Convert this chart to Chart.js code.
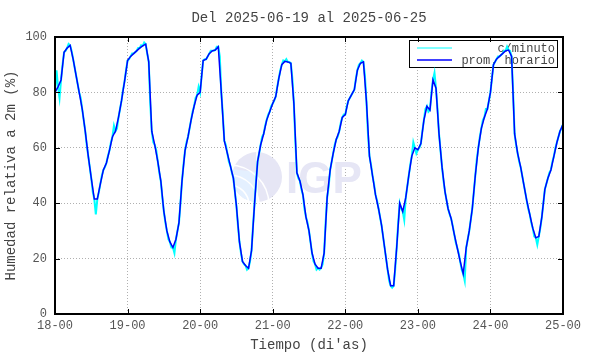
<!DOCTYPE html>
<html>
<head>
<meta charset="utf-8">
<script src="https://cdn.jsdelivr.net/npm/chart.js@4"></script>
<style>
  body { margin: 0; background: #fff; }
</style>
</head>
<body>
<canvas id="myChart" width="590" height="354"></canvas>
<script>
"use strict";
// tick labels of the x axis, one per day (every 24 h)
const xTickLabels = ["18-00", "19-00", "20-00", "21-00", "22-00", "23-00", "24-00", "25-00"];
const yTicks = [0, 20, 40, 60, 80, 100];

// hourly average (prom. horario), one value per hour from 18-00
const hourlyRH = [
  80, 82, 84.5, 94.5, 96, 97, 92, 86, 80, 74, 66, 57, 49, 41.5, 41.5, 47, 52, 54.5, 59, 64, 66, 71, 77, 84,
  91.5, 93, 94, 95, 96, 96.8, 97.4, 91, 66, 61, 55, 48, 37, 30, 26, 24, 27, 33, 48, 59, 64, 70, 75, 79,
  80, 91.5, 92, 94, 95, 95.3, 96.5, 80, 62.5, 58, 53.5, 49, 39, 26, 19, 17.5, 16.5, 23, 40, 55, 61, 65, 70, 73,
  76, 78.5, 85, 90, 91.2, 91, 90.5, 76, 51, 48, 43, 35, 30, 22, 18, 16.5, 16.5, 22, 42, 52, 58, 63, 66, 71,
  72, 77, 79, 81, 88, 90.5, 91, 76.7, 57, 50, 43, 38, 32, 24, 16, 10.2, 10.2, 24, 40, 37, 42, 50, 57, 60,
  59.3, 61.5, 70, 75, 73.6, 84.5, 81.5, 65, 53, 44, 38, 34.5, 29, 24, 19, 14.5, 24, 30, 38, 50, 60, 67, 71, 74,
  80, 90, 92, 93, 94, 95, 95.3, 93, 65, 58, 53, 47, 41, 36, 31, 27.5, 28, 35, 45, 49, 52, 57, 62, 66,
  68.5
];

// per-minute readings (c/minuto), read at each half hour
const halfHourRH = [
  88, 78, 90, 95, 97.5, 95, 89, 83, 78, 70, 61, 53, 44, 36, 44, 50, 53, 57, 62, 68, 67, 74, 81, 88,
  92, 94, 94.5, 96, 97, 98, 94, 76, 62, 59, 51, 42, 33, 27, 24, 22, 30, 40, 54, 62, 67, 73, 78, 82,
  86, 92, 93, 95, 95, 96.5, 93, 72, 61, 55, 51, 44, 32, 22, 18, 16, 19, 32, 48, 58, 64, 68, 72, 75,
  77, 82, 88, 91.5, 92, 91, 85, 62, 49, 45, 38, 33, 26, 19, 16, 16, 18, 33, 46, 55, 61, 64, 69, 72,
  75, 78, 80, 85, 90, 91.5, 86, 65, 54, 47, 41, 35, 28, 20, 12, 9.5, 16, 33, 38, 34, 46, 54, 62, 58,
  60, 66, 74, 73, 80, 87, 74, 59, 48, 41, 36, 32, 26, 22, 16, 12, 27, 34, 44, 56, 64, 70, 74, 77,
  85, 91, 93, 93.5, 95, 96.5, 95, 80, 61, 55, 50, 44, 38, 33, 28, 25, 31, 40, 47, 51, 55, 60, 64, 67
];

const FONT = "'Liberation Mono', 'DejaVu Sans Mono', monospace";

const hourlyPoints = hourlyRH.map((v, i) => ({ x: i, y: v }));
const minutePoints = [];
hourlyRH.forEach((v, i) => {
  minutePoints.push({ x: i, y: v });
  if (i < halfHourRH.length) minutePoints.push({ x: i + 0.5, y: halfHourRH[i] });
});

// frame, inner ticks, legend and watermark
const extras = {
  id: "extras",
  beforeDatasetsDraw(chart) {
    const ctx = chart.ctx;
    const a = chart.chartArea;
    ctx.save();
    // IGP watermark
    const cx = a.left + 202, cy = 177;
    ctx.fillStyle = "#e6e6f5";
    ctx.beginPath();
    ctx.arc(cx, cy, 25, 0, Math.PI * 2);
    ctx.fill();
    ctx.fillStyle = "#e4f0ff";
    ctx.beginPath();
    ctx.moveTo(cx, cy + 25);
    ctx.arc(cx, cy, 25, Math.PI / 2, Math.PI * 1.1);
    ctx.lineTo(cx, cy - 5);
    ctx.closePath();
    ctx.fill();
    ctx.strokeStyle = "#ffffff";
    ctx.lineWidth = 1.5;
    [40, 30, 20].forEach(r => {
      ctx.beginPath();
      ctx.arc(cx - 28, cy + 28, r, -Math.PI / 2, 0);
      ctx.stroke();
    });
    ctx.beginPath();
    ctx.moveTo(cx, cy - 25);
    ctx.lineTo(cx, cy + 25);
    ctx.stroke();
    ctx.fillStyle = "#e6e6f5";
    ctx.font = "bold 44px 'Liberation Sans', Arial, sans-serif";
    ctx.textBaseline = "alphabetic";
    ctx.textAlign = "left";
    ctx.fillText("IGP", cx + 29, cy + 16);

    // legend box
    const bx = a.right - 154, by = a.top + 3, bw = 148, bh = 27;
    ctx.fillStyle = "#fff";
    ctx.fillRect(bx, by, bw, bh);
    ctx.strokeStyle = "#000";
    ctx.lineWidth = 1;
    ctx.strokeRect(bx + 0.5, by + 0.5, bw, bh);
    const items = [chart.data.datasets[1], chart.data.datasets[0]];
    ctx.font = "12px " + FONT;
    ctx.textAlign = "right";
    ctx.textBaseline = "middle";
    items.forEach((ds, i) => {
      const y = by + 8 + i * 12;
      ctx.strokeStyle = ds.borderColor;
      ctx.lineWidth = i === 0 ? 1 : 1.5;
      ctx.beginPath();
      ctx.moveTo(bx + 8, y);
      ctx.lineTo(bx + 43, y);
      ctx.stroke();
      ctx.fillStyle = "#444";
      ctx.fillText(ds.label, bx + bw - 2, y + 1);
    });
    ctx.restore();
  },
  afterDatasetsDraw(chart) {
    const ctx = chart.ctx;
    const a = chart.chartArea;
    const xs = chart.scales.x, ys = chart.scales.y;
    ctx.save();
    ctx.strokeStyle = "#000";
    ctx.lineWidth = 1;
    ctx.beginPath();
    xTickLabels.forEach((t, i) => {
      const px = Math.round(xs.getPixelForValue(i * 24)) + 0.5;
      ctx.moveTo(px, a.bottom); ctx.lineTo(px, a.bottom - 5);
      ctx.moveTo(px, a.top); ctx.lineTo(px, a.top + 5);
    });
    yTicks.forEach(v => {
      const py = Math.round(ys.getPixelForValue(v)) + 0.5;
      ctx.moveTo(a.left, py); ctx.lineTo(a.left + 5, py);
      ctx.moveTo(a.right, py); ctx.lineTo(a.right - 5, py);
    });
    ctx.stroke();
    ctx.lineWidth = 2;
    ctx.strokeRect(a.left, a.top, a.right - a.left, a.bottom - a.top);
    // title
    ctx.fillStyle = "#444";
    ctx.font = "14px " + FONT;
    ctx.textAlign = "center";
    ctx.textBaseline = "middle";
    ctx.fillText("Del 2025-06-19 al 2025-06-25", (a.left + a.right) / 2, 18);
    ctx.restore();
  }
};

const ctx = document.getElementById("myChart").getContext("2d");
const chart = new Chart(ctx, {
  type: "line",
  data: {
    datasets: [
      {
        label: "prom. horario",
        data: hourlyPoints,
        borderColor: "#0000ff",
        borderWidth: 1.5,
        pointRadius: 0,
        tension: 0
      },
      {
        label: "c/minuto",
        data: minutePoints,
        borderColor: "#00ffff",
        borderWidth: 2,
        pointRadius: 0,
        tension: 0
      }
    ]
  },
  plugins: [extras],
  options: {
    responsive: false,
    animation: false,
    layout: { padding: { top: 37, right: 27, left: 0, bottom: 0 } },
    plugins: {
      legend: { display: false },
      tooltip: { enabled: false }
    },
    scales: {
      x: {
        type: "linear",
        min: 0,
        max: 168,
        afterFit(scale) { scale.height = 40; },
        afterBuildTicks(scale) {
          scale.ticks = xTickLabels.map((t, i) => ({ value: i * 24 }));
        },
        ticks: {
          callback: v => xTickLabels[v / 24],
          font: { family: FONT, size: 12 },
          color: "#555",
          padding: 5,
          maxRotation: 0,
          autoSkip: false
        },
        grid: { color: "#b0b0b0", drawTicks: false, lineWidth: 1 },
        border: { display: false, dash: [1, 2] },
        title: {
          display: true,
          text: "Tiempo (di'as)",
          font: { family: FONT, size: 14 },
          color: "#444",
          padding: { top: 0, bottom: 0 }
        }
      },
      y: {
        min: 0,
        max: 100,
        afterFit(scale) { scale.width = 55; },
        afterBuildTicks(scale) {
          scale.ticks = yTicks.map(v => ({ value: v }));
        },
        ticks: {
          font: { family: FONT, size: 12 },
          color: "#555",
          padding: 8
        },
        grid: { color: "#b0b0b0", drawTicks: false, lineWidth: 1 },
        border: { display: false, dash: [1, 2] },
        title: {
          display: true,
          text: "Humedad relativa a 2m (%)",
          font: { family: FONT, size: 14 },
          color: "#444",
          padding: { top: 3, bottom: 0 }
        }
      }
    }
  }
});
</script>
</body>
</html>
